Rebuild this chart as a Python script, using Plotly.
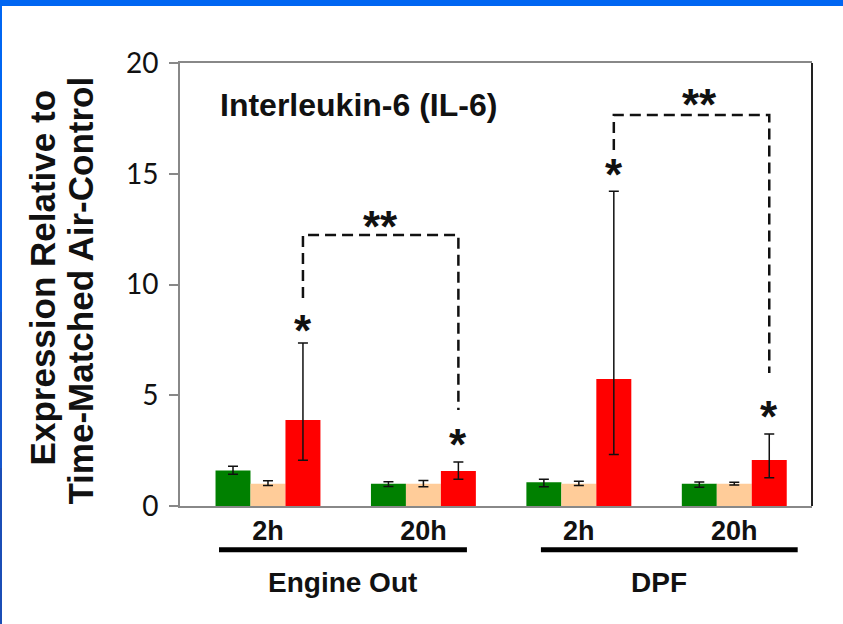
import plotly.graph_objects as go

# ---------------- data ----------------
time_labels = ["2h", "20h", "2h", "20h"]
exposure_labels = ["Engine Out", "DPF"]
exposure_centers = [0.482, 2.514]
chart_title = "Interleukin-6 (IL-6)"
y_title_line1 = "Expression Relative to"
y_title_line2 = "Time-Matched Air-Control"
y_ticks = [0, 5, 10, 15, 20]

green_vals = [1.60, 1.00, 1.07, 1.00]
green_up = [0.19, 0.09, 0.14, 0.08]
green_dn = [0.17, 0.12, 0.20, 0.15]

peach_vals = [1.00, 1.00, 1.00, 1.00]
peach_up = [0.14, 0.15, 0.12, 0.07]
peach_dn = [0.07, 0.13, 0.07, 0.05]

red_vals = [3.88, 1.58, 5.73, 2.08]
red_up = [3.48, 0.41, 8.48, 1.17]
red_dn = [1.82, 0.37, 3.40, 0.80]

single_star_y = [8.17, 2.98, 15.17, 4.26]
# brackets: (left group, right group)
bracket_pairs = [(0, 1), (2, 3)]
bracket_top = [12.23, 17.65]
bracket_left_bottom = [9.39, 16.07]
bracket_right_bottom = [4.33, 6.00]
double_star_y = [12.91, 18.42]
double_star_dx = [0.0, 0.05]

# group underline extents (in category units)
underline_x = [(-0.315, 1.28), (1.756, 3.408)]

# ---------------- figure ----------------
xs = list(range(len(time_labels)))
BAR_W = 0.225
err_style = dict(type="data", symmetric=False, color="#111111", thickness=1.5, width=5)

fig = go.Figure()
fig.add_trace(go.Bar(x=xs, y=green_vals, marker_color="#008000", marker_line_width=0,
                     error_y=dict(array=green_up, arrayminus=green_dn, **err_style)))
fig.add_trace(go.Bar(x=xs, y=peach_vals, marker_color="#FFCC99", marker_line_width=0,
                     error_y=dict(array=peach_up, arrayminus=peach_dn, **err_style)))
fig.add_trace(go.Bar(x=xs, y=red_vals, marker_color="#FF0000", marker_line_width=0,
                     error_y=dict(array=red_up, arrayminus=red_dn, **err_style)))

red_x = [x + BAR_W for x in xs]

# dashed brackets
for i, (a, b) in enumerate(bracket_pairs):
    fig.add_trace(go.Scatter(
        x=[red_x[a], red_x[a], red_x[b], red_x[b]],
        y=[bracket_left_bottom[i], bracket_top[i], bracket_top[i], bracket_right_bottom[i]],
        mode="lines", line=dict(color="#111111", width=2.5, dash="11px,6px"),
        hoverinfo="skip", showlegend=False))

annotations = []
star_font = dict(family="Arial, Liberation Sans", size=44, color="#111111", weight="bold")
for i, yv in enumerate(single_star_y):
    annotations.append(dict(x=red_x[i], y=yv, xref="x", yref="y", text="*", showarrow=False,
                            font=star_font, xanchor="center", yanchor="middle", yshift=-5))
for i, (a, b) in enumerate(bracket_pairs):
    annotations.append(dict(x=(red_x[a] + red_x[b]) / 2 + double_star_dx[i], y=double_star_y[i],
                            xref="x", yref="y", text="**", showarrow=False,
                            font=star_font, xanchor="center", yanchor="middle", yshift=-6))

bold = dict(family="Arial, Liberation Sans", color="#111111", weight="bold")
annotations.append(dict(x=0.060, y=0.905, xref="paper", yref="paper", text=chart_title,
                        showarrow=False, xanchor="left", yanchor="middle",
                        font=dict(size=32, **bold)))
annotations.append(dict(x=-0.2184, y=0.516, xref="paper", yref="paper", text=y_title_line1,
                        showarrow=False, textangle=-90, xanchor="center", yanchor="middle",
                        font=dict(size=35, **bold)))
annotations.append(dict(x=-0.158, y=0.4865, xref="paper", yref="paper", text=y_title_line2,
                        showarrow=False, textangle=-90, xanchor="center", yanchor="middle",
                        font=dict(size=35, **bold)))
for lab, cx in zip(exposure_labels, exposure_centers):
    annotations.append(dict(x=cx, y=-0.1716, xref="x", yref="paper", text=lab,
                            showarrow=False, xanchor="center", yanchor="middle",
                            font=dict(size=28, **bold)))

shapes = []
for x0, x1 in underline_x:
    shapes.append(dict(type="line", xref="x", yref="paper", x0=x0, x1=x1,
                       y0=-0.099, y1=-0.099, line=dict(color="#000000", width=5)))
# right plot border (dark)
shapes.append(dict(type="line", xref="paper", yref="paper", x0=1, x1=1, y0=0, y1=1,
                   line=dict(color="#222222", width=2)))
# blue slide frame
L = -180 / 632
R = (843 - 180) / 632
TOP = 506 / 443
BOT = (506 - 624) / 443
shapes.append(dict(type="rect", xref="paper", yref="paper", x0=L, x1=R,
                   y0=(506 - 6) / 443, y1=TOP, line_width=0, fillcolor="#0066F2", layer="above"))
left_cols = ["#0066F2", "#0B5EE2", "#1556CC", "#1B4EB6"]
n = len(left_cols)
for k, c in enumerate(left_cols):
    ya = TOP - (TOP - BOT) * k / n
    yb = TOP - (TOP - BOT) * (k + 1) / n
    shapes.append(dict(type="rect", xref="paper", yref="paper", x0=L, x1=(2 - 180) / 632,
                       y0=yb, y1=ya, line_width=0, fillcolor=c, layer="above"))

fig.update_layout(
    width=843, height=624,
    margin=dict(l=180, r=31, t=63, b=118),
    paper_bgcolor="white", plot_bgcolor="white",
    barmode="group", bargap=0.325, bargroupgap=0,
    showlegend=False,
    annotations=annotations, shapes=shapes,
    xaxis=dict(range=[-0.566, 3.5], tickvals=xs, ticktext=time_labels,
               showline=True, linecolor="#888888", linewidth=2, mirror=True,
               ticks="", showgrid=False, zeroline=False,
               tickfont=dict(size=27, **bold)),
    yaxis=dict(range=[0, 20], tickvals=y_ticks, showline=True, linecolor="#888888",
               linewidth=2, ticks="outside", ticklen=9, tickwidth=2, tickcolor="#888888",
               showgrid=False, zeroline=False, ticklabelstandoff=5,
               tickfont=dict(family="Lato, Open Sans, sans-serif", size=28, color="#111111")),
)

fig.write_html("out.html")
